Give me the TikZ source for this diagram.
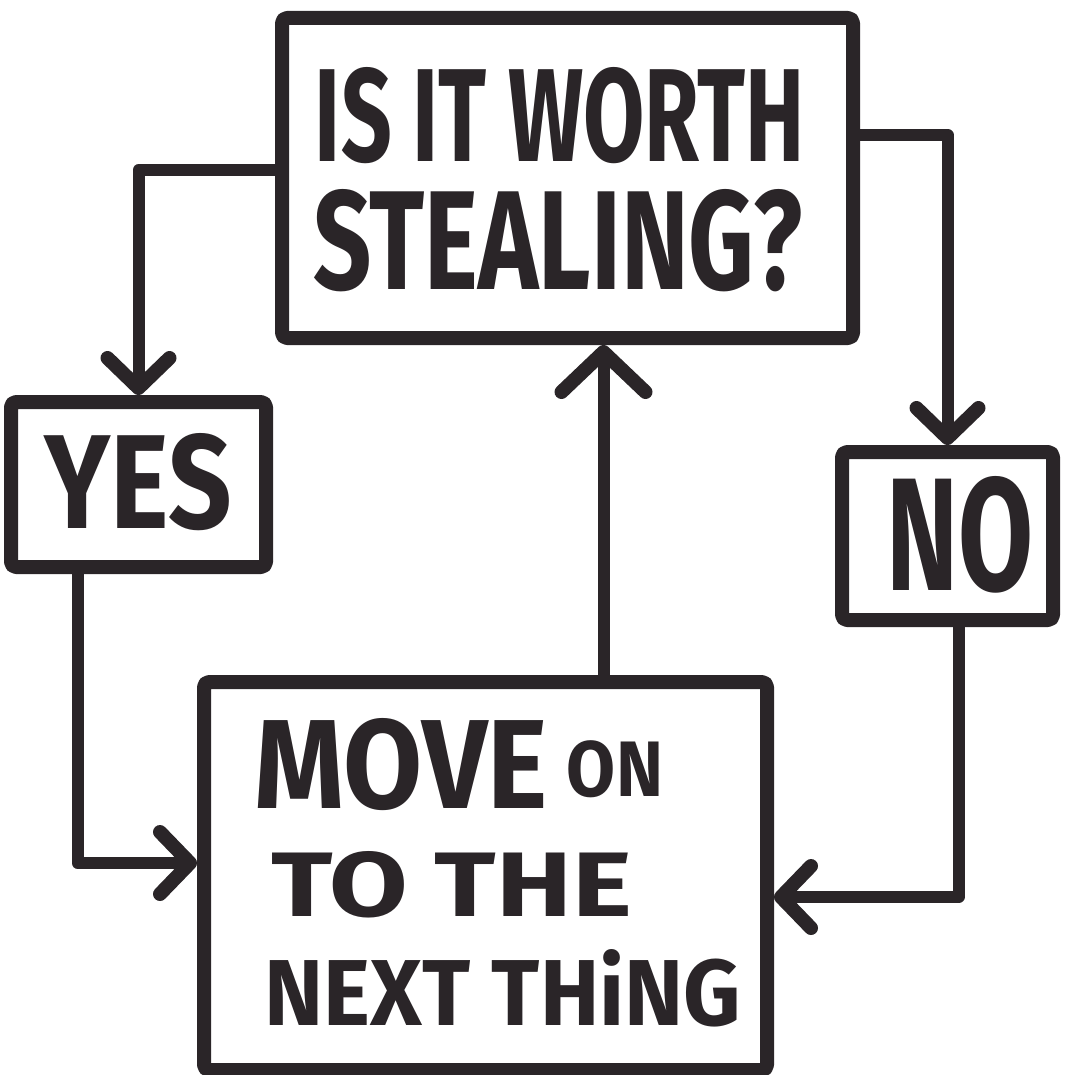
\documentclass[tikz,border=0pt]{standalone}
\usepackage{fontspec}
\setmainfont{Fira Sans}
\usepackage{graphicx}
\usetikzlibrary{arrows.meta}
\definecolor{ink}{RGB}{42,37,40}
\tikzset{
  box/.style={draw=ink, line width=14pt, line join=round, rectangle, inner sep=0pt, rounded corners=5pt},
  lbl/.style={text=ink, inner sep=0pt, font=\bfseries},
  conn/.style={draw=ink, line width=12pt, line join=round,
    -{Straight Barb[length=30pt,width=62pt,line width=14pt,round]}},
  bigconn/.style={draw=ink, line width=12pt, line join=round,
    -{Straight Barb[length=40pt,width=84pt,line width=14pt,round]}},
}
\begin{document}
\begin{tikzpicture}[x=1pt,y=-1pt]
  \fill[white] (0,0) rectangle (1066,1075);
  \useasboundingbox (0,0) rectangle (1066,1075);

  % boxes
  \node[box, minimum width=571pt, minimum height=320pt] (q) at (567.5,178) {};
  \node[box, minimum width=255pt, minimum height=165pt] (yes) at (138.5,484.5) {};
  \node[box, minimum width=211pt, minimum height=168pt] (no) at (947.5,536) {};
  \node[box, minimum width=563pt, minimum height=388pt] (mv) at (485.5,876) {};

  % texts
  \node[lbl] (q1) at (560,116) {\resizebox{490pt}{94pt}{IS IT WORTH}};
  \node[lbl] (q2) at (558,241) {\resizebox{489pt}{100pt}{STEALING?}};
  \node[lbl] (yt) at (138,482) {\resizebox{187pt}{95pt}{YES}};
  \node[lbl] (nt) at (960,535) {\resizebox{147pt}{114pt}{NO}};
  \node[lbl] (m1) at (459,765) {\resizebox{408pt}{90pt}{MOVE\,\raisebox{0.18ex}{\scalebox{0.62}{ON}}}};
  \node[lbl] (m2) at (452,885) {\resizebox{360pt}{65pt}{TO THE}};
  \node[lbl] (m3) at (503,988) {\resizebox{476pt}{76pt}{NEXT THiNG}};

  % connectors
  \draw[conn] ([yshift=8pt]q.west) -| (yes.north);
  \draw[conn] ([yshift=43pt]q.east) -| (no.north);
  \draw[conn] ([xshift=-61pt]yes.south) |- ([yshift=13pt]mv.west);
  \draw[conn] ([xshift=11pt]no.south) |- ([yshift=-21pt]mv.east);
  \draw[bigconn] ([xshift=118pt]mv.north) -- ([xshift=36pt]q.south);
\end{tikzpicture}
\end{document}
